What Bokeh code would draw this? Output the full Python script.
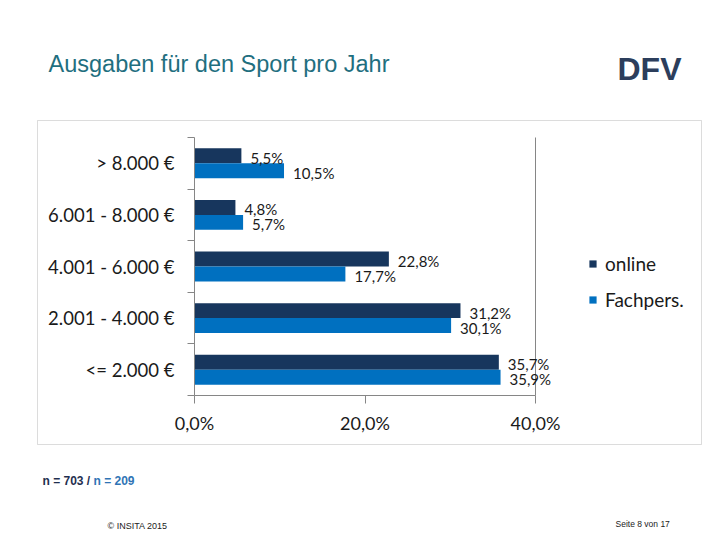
from bokeh.plotting import figure
from bokeh.models import (ColumnDataSource, FixedTicker, Label, Legend, LegendItem,
                          BoxAnnotation, LinearAxis)
from bokeh.core.properties import value
from bokeh.embed import file_html
from bokeh.resources import INLINE

# ---- data ----
categories = ["<= 2.000 €", "2.001 - 4.000 €", "4.001 - 6.000 €", "6.001 - 8.000 €", "> 8.000 €"]
online = [35.7, 31.2, 22.8, 4.8, 5.5]
fachpers = [35.9, 30.1, 17.7, 5.7, 10.5]
series_names = ["online", "Fachpers."]
x_ticks = [0, 20, 40]
x_tick_labels = ["0,0%", "20,0%", "40,0%"]

title_text = "Ausgaben für den Sport pro Jahr"

# ---- style ----
C_ONLINE = "#17365D"
C_FACH = "#0070C0"
AXIS_GRAY = "#868686"
FONT = "Lato"

W, H = 720, 540
FL, FR, FT, FB = 194, 535, 137, 395  # plot-area edges in page pixels

def fmt(v):
    return f"{v:.1f}".replace(".", ",") + "%"

n = len(categories)
x0, x1 = x_ticks[0], x_ticks[-1]
px_x = (FR - FL) / (x1 - x0)
px_y = (FB - FT) / n
ycent = [i + 0.5 for i in range(n)]
BAR_H = 0.29
src = ColumnDataSource(dict(
    y_on=[c + BAR_H / 2 for c in ycent],
    y_fa=[c - BAR_H / 2 for c in ycent],
    online=online, fachpers=fachpers,
    lbl_on=[fmt(v) for v in online], lbl_fa=[fmt(v) for v in fachpers],
))

# frame covers the whole page; ranges chosen so that the plot area sits at FL..FR / FT..FB
p = figure(width=W, height=H,
           x_range=(x0 - FL / px_x, x1 + (W - FR) / px_x),
           y_range=(-(H - FB) / px_y, n + FT / px_y),
           output_backend="svg", toolbar_location=None,
           x_axis_type=None, y_axis_type=None,
           min_border=0, min_border_left=0, min_border_right=0,
           min_border_top=0, min_border_bottom=0)
p.title.visible = False
p.outline_line_color = None
p.xgrid.visible = False
p.ygrid.visible = False
p.background_fill_color = "white"
p.border_fill_color = "white"

r_on = p.hbar(y="y_on", left=0, right="online", height=BAR_H, source=src,
              fill_color=C_ONLINE, line_color=None)
r_fa = p.hbar(y="y_fa", left=0, right="fachpers", height=BAR_H, source=src,
              fill_color=C_FACH, line_color=None)

# y axis: labels at band centers, tick marks at band boundaries
ya = LinearAxis(fixed_location=x0, bounds=(0, n))
ya.ticker = FixedTicker(ticks=ycent, minor_ticks=list(range(n + 1)))
ya.major_label_overrides = {c: lab for c, lab in zip(ycent, categories)}
ya.major_tick_line_color = None
ya.major_tick_out = 0
ya.major_tick_in = 0
ya.minor_tick_line_color = AXIS_GRAY
ya.minor_tick_out = 7
ya.minor_tick_in = 0
ya.axis_line_color = AXIS_GRAY
ya.major_label_standoff = 13
ya.major_label_text_font = FONT
ya.major_label_text_font_size = "18.5px"
ya.major_label_text_color = "#1a1a1a"
p.add_layout(ya, "left")

xa = LinearAxis(fixed_location=0, bounds=(x0, x1))
xa.ticker = FixedTicker(ticks=x_ticks, minor_ticks=[])
xa.major_label_overrides = {t: lab for t, lab in zip(x_ticks, x_tick_labels)}
xa.major_tick_line_color = AXIS_GRAY
xa.major_tick_out = 8
xa.major_tick_in = 0
xa.minor_tick_line_color = None
xa.axis_line_color = AXIS_GRAY
xa.major_label_standoff = 8
xa.major_label_text_font = FONT
xa.major_label_text_font_size = "18px"
xa.major_label_text_color = "#1a1a1a"
p.add_layout(xa, "below")

# right edge line of the plot area at the axis maximum
p.segment(x0=[x1], y0=[0], x1=[x1], y1=[n], line_color=AXIS_GRAY, line_width=1)

# data labels
for ycol, xcol, lcol in (("y_on", "online", "lbl_on"), ("y_fa", "fachpers", "lbl_fa")):
    p.text(x=xcol, y=ycol, text=lcol, source=src, x_offset=9, y_offset=2,
           text_baseline="middle", text_align="left", text_font=value(FONT),
           text_font_size="15px", text_color="#1a1a1a")

# legend
legend = Legend(items=[LegendItem(label=series_names[0], renderers=[r_on]),
                       LegendItem(label=series_names[1], renderers=[r_fa])],
                location=(588, H - 311), glyph_width=9, glyph_height=9,
                label_standoff=8, spacing=13, label_height=22, padding=0, margin=0,
                border_line_color=None, background_fill_alpha=0,
                label_text_font=FONT, label_text_font_size="19px",
                label_text_color="#1a1a1a")
p.add_layout(legend)

# frame box around the chart
p.add_layout(BoxAnnotation(left=37, right=701, bottom=H - 444, top=H - 120,
                           left_units="screen", right_units="screen",
                           bottom_units="screen", top_units="screen",
                           fill_color=None, fill_alpha=0, line_color="#8c8c8c", line_width=1))

def add_text(x, y, text, size, color, bold=False, font="Liberation Sans", align="left"):
    p.add_layout(Label(x=x, y=H - y, x_units="screen", y_units="screen", text=text,
                       text_font=font, text_font_size=size, text_color=color,
                       text_font_style="bold" if bold else "normal",
                       text_baseline="middle", text_align=align))

add_text(48, 63, title_text, "23.5px", "#1F6F7F")
add_text(649, 68, "DFV", "32px", "#2C3E5C", bold=True, align="center")
add_text(42, 480, "n = 703 /", "12px", "#1F2F4F", bold=True)
add_text(93, 480, "n = 209", "12px", "#2F74B5", bold=True)
add_text(107, 525, "© INSITA 2015", "9px", "#222222")
add_text(615, 523, "Seite 8 von 17", "8.5px", "#222222")

open("out.html", "w").write(file_html(p, INLINE))
